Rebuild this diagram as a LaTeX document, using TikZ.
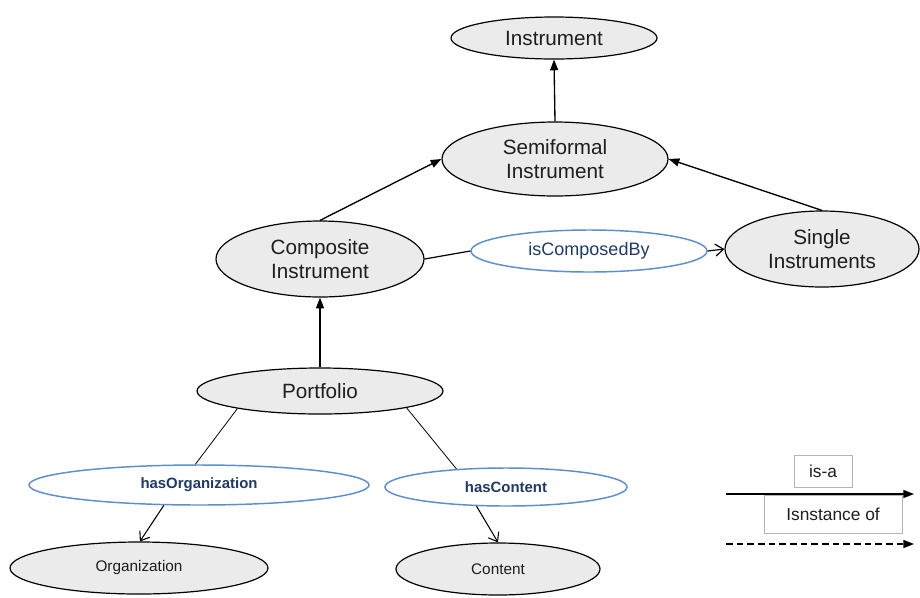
\documentclass[tikz,border=0pt]{standalone}
\usepackage{fontspec}
\setmainfont{Liberation Sans}
\usetikzlibrary{arrows.meta,shapes.geometric}
\definecolor{classfill}{HTML}{EBEBEB}
\definecolor{relblue}{HTML}{5B8FD2}
\definecolor{relink}{HTML}{1F3A68}
\definecolor{inkgray}{HTML}{1E1E1E}
\definecolor{legendgray}{HTML}{B4B4B4}
\begin{document}
\begin{tikzpicture}[x=0.75pt,y=-0.75pt,
  classnode/.style={ellipse,draw=black,line width=0.9pt,fill=classfill,
    text=inkgray,inner sep=0pt,align=center,font=\fontsize{15.5}{18.2}\selectfont},
  smallclass/.style={classnode,font=\fontsize{11.5}{13}\selectfont},
  relnode/.style={ellipse,draw=relblue,line width=1.1pt,fill=white,
    text=relink,inner sep=0pt,font=\fontsize{11.2}{13}\selectfont\bfseries},
  isa/.style={line width=1pt,-{Triangle[length=8pt,width=6pt]}},
  relline/.style={line width=0.6pt},
  relarrow/.style={line width=0.8pt,-{Straight Barb[length=6pt,width=9pt]}},
  legendbox/.style={draw=legendgray,line width=0.6pt,fill=white,inner sep=0pt,
    font=\fontsize{13}{15}\selectfont,text=inkgray}
]
\useasboundingbox (0,0) rectangle (920,597);

% class nodes
\node[classnode,minimum width=154.5pt,minimum height=31.5pt] (instr) at (554,38) {Instrument};
\node[classnode,minimum width=169.5pt,minimum height=55.5pt] (semi) at (555,159) {Semiformal\\Instrument};
\node[classnode,minimum width=156pt,minimum height=57pt] (comp) at (320,259) {Composite\\Instrument};
\node[classnode,minimum width=145.5pt,minimum height=57pt] (single) at (822,249) {Single\\Instruments};
\node[classnode,minimum width=184.5pt,minimum height=34.5pt] (port) at (320,391) {Portfolio};
\node[smallclass,minimum width=193.5pt,minimum height=39pt] (org) at (139,568) {Organization};
\node[smallclass,minimum width=153pt,minimum height=39pt] (cont) at (498,569) {Content};

% relation nodes
\node[relnode,minimum width=177pt,minimum height=31.5pt,
  font=\fontsize{13.5}{15}\selectfont] (composed) at (589,251) {isComposedBy};
\node[relnode,minimum width=255pt,minimum height=30pt] (hasorg) at (199,485) {hasOrganization};
\node[relnode,minimum width=181.5pt,minimum height=28.5pt] (hascont) at (506,487) {hasContent};

% is-a connectors
\draw[isa] (semi.north) -- (instr.south);
\draw[isa] (comp.north) -- (semi.west);
\draw[isa] (single.north) -- (semi.east);
\draw[isa] (port.north) -- (comp.south);

% property connectors
\draw[line width=0.9pt] (comp.east) -- (composed.west);
\draw[line width=0.9pt,-{Straight Barb[length=6pt,width=9pt]}] (composed.east) -- (single.west);
\draw[relline] (port.192) -- (hasorg.100);
\draw[relline] (port.349) -- (hascont.160);
\draw[relarrow] (hasorg.210) -- (org.88);
\draw[relarrow] (hascont.213) -- (cont.north);

% legend
\coordinate (isastart) at (726,494);
\coordinate (isaend) at (914,494);
\coordinate (inststart) at (726,544);
\coordinate (instend) at (914,544);
\node[legendbox,minimum width=43.5pt,minimum height=24pt] (isalabel) at (823,471) {is-a};
\draw[isa] (isastart) -- (isaend);
\node[legendbox,minimum width=103.5pt,minimum height=28.5pt] (instlabel) at (833,514) {Isnstance of};
\draw[line width=1pt,dashed,dash pattern=on 5pt off 3pt,-{Triangle[length=8pt,width=6pt]}] (inststart) -- (instend);
\end{tikzpicture}
\end{document}
